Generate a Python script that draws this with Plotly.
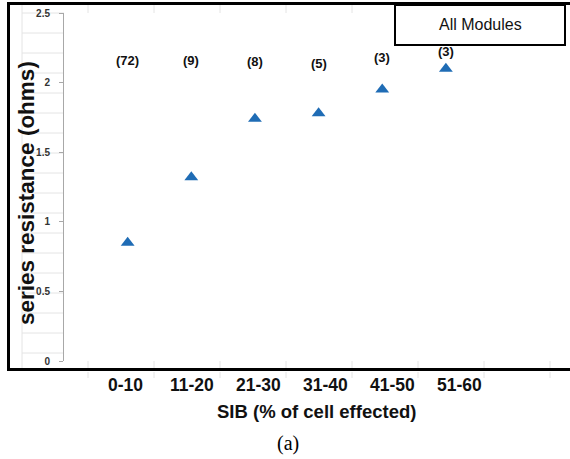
import plotly.graph_objects as go

# Series resistance by share of cell affected (SIB), all modules
categories = ["0-10", "11-20", "21-30", "31-40", "41-50", "51-60"]
resistance = [0.85, 1.32, 1.74, 1.78, 1.95, 2.10]
module_counts = [72, 9, 8, 5, 3, 3]
y_ticks = [0, 0.5, 1, 1.5, 2, 2.5]
y_tick_text = ["0", "0.5", "1", "1.5", "2", "2.5"]

W, H = 570, 459
ML, MR, MT, MB = 64, 0, 13, 98
PW, PH = W - ML - MR, H - MT - MB
X_MAX = 7.95

def px(x):
    return (x - ML) / PW

def py(y):
    return (H - MB - y) / PH

xpos = list(range(1, len(categories) + 1))

fig = go.Figure()
fig.add_trace(go.Scatter(
    x=xpos, y=resistance, mode="markers",
    marker=dict(symbol="triangle-up", size=12, color="#1f6cb5",
                line=dict(width=0)),
    cliponaxis=False, showlegend=False, hoverinfo="skip",
))

shapes = []
grid = dict(color="#e4e4e4", width=1)
# faint worksheet grid peeking around the plot area
for yy in range(13, 360, 20):
    shapes.append(dict(type="line", xref="paper", yref="paper",
                       x0=px(22), x1=px(64), y0=py(yy), y1=py(yy),
                       line=grid, layer="below"))
shapes.append(dict(type="line", xref="paper", yref="paper",
                   x0=px(22), x1=px(22), y0=py(5), y1=py(368),
                   line=grid, layer="below"))
for xx in range(88, 570, 66):
    for a, b in ((5, 13), (361, 368), (372, 378)):
        shapes.append(dict(type="line", xref="paper", yref="paper",
                           x0=px(xx), x1=px(xx), y0=py(a), y1=py(b),
                           line=grid, layer="below"))
# chart border
shapes.append(dict(type="rect", xref="paper", yref="paper",
                   x0=px(8.5), x1=px(590), y0=py(369.5), y1=py(3.5),
                   line=dict(color="black", width=3)))
# title box
shapes.append(dict(type="rect", xref="paper", yref="paper",
                   x0=px(395), x1=px(565), y0=py(45), y1=py(5),
                   line=dict(color="black", width=2), fillcolor="white"))

annotations = []
sans = "Liberation Sans, Arial, sans-serif"
bold = dict(family=sans, color="#111111")

def note(text, x, y, size, xref="paper", yref="paper", angle=0, font=None):
    f = dict(size=size, **(font or bold))
    annotations.append(dict(text=text, x=x, y=y, xref=xref, yref=yref,
                            xanchor="center", yanchor="middle",
                            showarrow=False, textangle=angle, font=f))

note("All Modules", px(480), py(25), 16, font=dict(family=sans, color="#111111"))

count_label_y = [2.16, 2.16, 2.155, 2.14, 2.18, 2.22]
for xi, n, ly in zip(xpos, module_counts, count_label_y):
    note(f"<b>({n})</b>", xi, ly, 13, xref="x", yref="y")

# category labels, spaced slightly wider than the markers
for i, cat in enumerate(categories):
    note(f"<b>{cat}</b>", px(125 + 66.8 * i), py(385), 17.5)

note("<b>SIB (% of cell effected)</b>", px(316), py(411), 18.5)
note("<b>series resistance (ohms)</b>", px(27), py(193), 22.5, angle=-90)
note("(a)", px(288), py(443), 20,
     font=dict(family="Liberation Serif, Times New Roman, serif", color="black"))

fig.update_layout(
    width=W, height=H,
    margin=dict(l=ML, r=MR, t=MT, b=MB),
    paper_bgcolor="white", plot_bgcolor="white",
    xaxis=dict(range=[0, X_MAX], showgrid=False, zeroline=False, showline=False,
               showticklabels=False, ticks=""),
    yaxis=dict(range=[0, 2.5], tickvals=y_ticks,
               ticktext=[f"<b>{t}</b>" for t in y_tick_text],
               showgrid=False, zeroline=False, showline=True,
               linecolor="#a8a8a8", linewidth=1, ticks="outside", ticklen=4,
               tickcolor="#a8a8a8", ticklabelstandoff=7,
               tickfont=dict(size=10, family=sans, color="#333333")),
    shapes=shapes, annotations=annotations,
)

fig.write_html("out.html")
